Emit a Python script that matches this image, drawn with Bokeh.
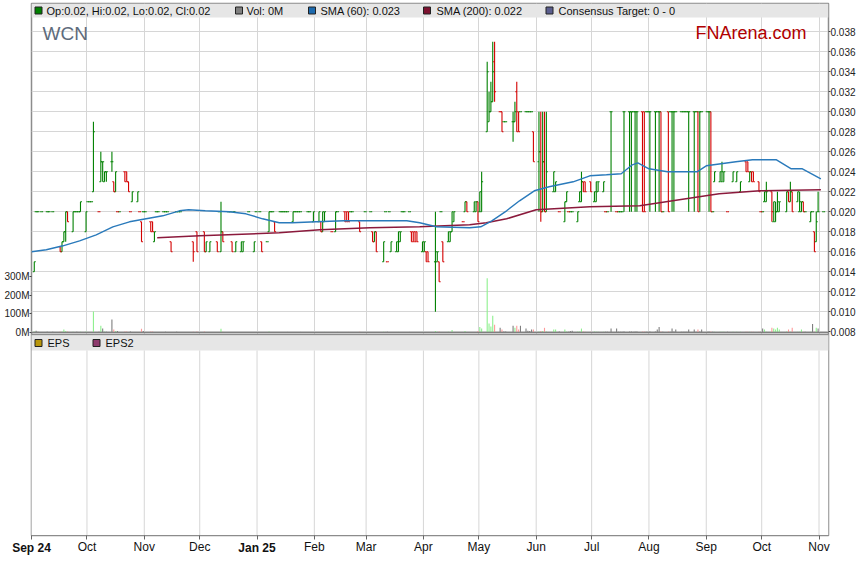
import pandas as pd
from bokeh.plotting import figure
from bokeh.models import Range1d, LinearAxis, DatetimeAxis, FixedTicker, Span, CustomJSTickFormatter
from bokeh.core.properties import value
from bokeh.embed import file_html
from bokeh.resources import INLINE

# ---------------- data ----------------
dates = [
    # Sep 2024
    "2024-09-02","2024-09-03","2024-09-04","2024-09-06","2024-09-09","2024-09-10","2024-09-12","2024-09-16","2024-09-17",
    "2024-09-18","2024-09-19","2024-09-20","2024-09-23","2024-09-24","2024-09-25","2024-09-26","2024-09-27","2024-09-30",
    # Oct 2024
    "2024-10-01","2024-10-02","2024-10-03","2024-10-04","2024-10-07","2024-10-08","2024-10-09","2024-10-10","2024-10-11",
    "2024-10-14","2024-10-15","2024-10-16","2024-10-17","2024-10-18","2024-10-21","2024-10-22","2024-10-23","2024-10-24",
    "2024-10-25","2024-10-28","2024-10-29","2024-10-30","2024-10-31",
    # Nov 2024
    "2024-11-01","2024-11-04","2024-11-05","2024-11-06","2024-11-07","2024-11-08","2024-11-11","2024-11-12","2024-11-13",
    "2024-11-15","2024-11-18","2024-11-19","2024-11-20","2024-11-27","2024-11-29",
    # Dec 2024
    "2024-12-03","2024-12-04","2024-12-06","2024-12-10","2024-12-11","2024-12-12","2024-12-13","2024-12-16","2024-12-17",
    "2024-12-18","2024-12-19","2024-12-20","2024-12-23","2024-12-24","2024-12-27","2024-12-30","2024-12-31",
    # Jan 2025
    "2025-01-02","2025-01-03","2025-01-06","2025-01-07","2025-01-08","2025-01-09","2025-01-10","2025-01-13","2025-01-14",
    "2025-01-15","2025-01-16","2025-01-17","2025-01-20","2025-01-21","2025-01-22","2025-01-23","2025-01-24","2025-01-28",
    "2025-01-29","2025-01-31",
    # Feb 2025
    "2025-02-03","2025-02-04","2025-02-05","2025-02-06","2025-02-10","2025-02-12","2025-02-13","2025-02-17","2025-02-18",
    "2025-02-19","2025-02-20","2025-02-21","2025-02-25","2025-02-28",
    # Mar 2025
    "2025-03-03","2025-03-04","2025-03-05","2025-03-06","2025-03-10","2025-03-11","2025-03-12","2025-03-13","2025-03-14",
    "2025-03-17","2025-03-18","2025-03-19","2025-03-20","2025-03-21","2025-03-24","2025-03-25","2025-03-26","2025-03-27",
    "2025-03-28","2025-03-31",
    # Apr 2025
    "2025-04-01","2025-04-02","2025-04-03","2025-04-07","2025-04-08","2025-04-09","2025-04-10","2025-04-11","2025-04-14",
    "2025-04-15","2025-04-16","2025-04-17","2025-04-22","2025-04-23","2025-04-24","2025-04-28","2025-04-29","2025-04-30",
    # May 2025
    "2025-05-01","2025-05-02","2025-05-05","2025-05-06","2025-05-07","2025-05-08","2025-05-09","2025-05-12","2025-05-13",
    "2025-05-14","2025-05-15","2025-05-19","2025-05-20","2025-05-21","2025-05-22","2025-05-23","2025-05-26","2025-05-27",
    "2025-05-28","2025-05-29","2025-05-30",
    # Jun 2025
    "2025-06-02","2025-06-03","2025-06-04","2025-06-05","2025-06-06","2025-06-10","2025-06-11","2025-06-13","2025-06-16",
    "2025-06-17","2025-06-18","2025-06-19","2025-06-20","2025-06-23","2025-06-24","2025-06-25","2025-06-26","2025-06-27",
    "2025-06-30",
    # Jul 2025
    "2025-07-02","2025-07-03","2025-07-04","2025-07-07","2025-07-08","2025-07-09","2025-07-11","2025-07-14","2025-07-15",
    "2025-07-16","2025-07-17","2025-07-18","2025-07-21","2025-07-22","2025-07-23","2025-07-24","2025-07-25","2025-07-28",
    "2025-07-29","2025-07-30","2025-07-31",
    # Aug 2025
    "2025-08-01","2025-08-04","2025-08-05","2025-08-06","2025-08-07","2025-08-08","2025-08-11","2025-08-12","2025-08-13",
    "2025-08-14","2025-08-15","2025-08-18","2025-08-19","2025-08-20","2025-08-21","2025-08-22","2025-08-25","2025-08-26",
    "2025-08-27","2025-08-28","2025-08-29",
    # Sep 2025
    "2025-09-01","2025-09-02","2025-09-03","2025-09-04","2025-09-05","2025-09-08","2025-09-09","2025-09-10","2025-09-12",
    "2025-09-15","2025-09-17","2025-09-19","2025-09-22","2025-09-23","2025-09-24","2025-09-25","2025-09-26","2025-09-29",
    "2025-09-30",
    # Oct / Nov 2025
    "2025-10-01","2025-10-02","2025-10-03","2025-10-06","2025-10-07","2025-10-08","2025-10-09","2025-10-10","2025-10-14",
    "2025-10-15","2025-10-16","2025-10-17","2025-10-20","2025-10-21","2025-10-22","2025-10-23","2025-10-24","2025-10-27",
    "2025-10-28","2025-10-29","2025-10-30","2025-10-31","2025-11-03",
]

opens = [
    .014,.020,.020,.020,.020,.020,.020,.0165,.016,.017,.018,.020,.018,.020,.020,.020,.020,.018,
    .021,.021,.021,.022,.020,.023,.025,.023,.024,.025,.023,.022,.020,.020,.024,.024,.023,.020,.021,.021,.020,.019,.020,
    .020,.019,.019,.017,.020,.020,.020,.020,.020,.017,.020,.020,.020,.017,.018,
    .018,.016,.016,.017,.020,.016,.018,.020,.020,.017,.020,.016,.016,.016,.020,.016,.020,
    .020,.017,.017,.018,.020,.020,.019,.020,.020,.020,.020,.020,.019,.020,.020,.020,.020,.020,.020,.019,
    .019,.019,.018,.019,.018,.018,.020,.020,.020,.020,.020,.020,.019,.020,
    .020,.018,.017,.018,.015,.020,.015,.020,.016,.016,.016,.017,.020,.020,.020,.018,.018,.018,.018,.016,
    .016,.016,.016,.015,.015,.015,.020,.017,.017,.017,.018,.019,.019,.020,.021,.020,.020,.021,
    .020,.020,.028,.029,.030,.031,.035,.030,.030,.029,.029,.029,.029,.032,.030,.030,.030,.030,.030,.030,.028,
    .025,.026,.020,.025,.020,.022,.022,.020,.019,.021,.020,.020,.020,.019,.021,.021,.023,.023,.023,
    .021,.021,.022,.022,.020,.020,.030,.020,.020,.020,.020,.030,.030,.030,.030,.030,.030,.030,.030,.030,.030,
    .030,.030,.030,.030,.030,.020,.030,.030,.030,.030,.030,.030,.030,.030,.030,.030,.030,.030,.030,.030,.030,
    .030,.030,.030,.020,.023,.023,.023,.023,.020,.023,.023,.022,.025,.025,.023,.024,.024,.023,.020,
    .020,.021,.021,.022,.019,.019,.020,.020,.020,.022,.021,.022,.021,.020,.020,.021,.020,.019,.020,.018,.017,.020,.020,
]

highs = [
    .015,.020,.020,.020,.020,.020,.020,.0165,.017,.018,.020,.020,.020,.020,.020,.020,.021,.020,
    .021,.021,.021,.029,.020,.026,.025,.024,.024,.026,.023,.024,.020,.020,.024,.024,.023,.020,.022,.022,.020,.019,.020,
    .020,.019,.019,.018,.020,.020,.020,.020,.020,.017,.020,.020,.020,.017,.018,
    .018,.017,.017,.017,.020,.021,.018,.020,.020,.017,.020,.017,.017,.017,.020,.017,.020,
    .020,.017,.017,.020,.020,.020,.019,.020,.020,.020,.020,.020,.020,.020,.020,.020,.020,.020,.020,.020,
    .020,.019,.020,.020,.018,.020,.020,.020,.020,.020,.020,.020,.019,.020,
    .020,.018,.018,.018,.017,.020,.015,.020,.017,.017,.018,.018,.020,.020,.020,.018,.018,.018,.018,.017,
    .017,.016,.016,.020,.016,.015,.020,.017,.018,.018,.020,.020,.019,.021,.021,.021,.021,.021,
    .022,.024,.035,.032,.033,.037,.037,.030,.030,.029,.029,.030,.031,.033,.030,.030,.030,.030,.030,.030,.028,
    .030,.030,.030,.030,.030,.024,.023,.020,.021,.022,.020,.020,.020,.020,.022,.024,.023,.023,.023,
    .022,.023,.023,.023,.020,.020,.030,.020,.020,.020,.020,.030,.030,.030,.030,.030,.030,.030,.030,.030,.030,
    .030,.030,.030,.030,.030,.020,.030,.030,.030,.030,.030,.030,.030,.030,.030,.030,.030,.030,.030,.030,.030,
    .030,.030,.030,.020,.024,.024,.025,.024,.020,.024,.024,.023,.025,.025,.024,.024,.024,.023,.020,
    .020,.022,.023,.022,.021,.021,.022,.021,.022,.022,.023,.022,.022,.022,.021,.021,.020,.020,.020,.018,.020,.022,.020,
]

lows = [
    .014,.020,.020,.020,.020,.020,.020,.016,.016,.017,.017,.019,.018,.020,.020,.020,.020,.018,
    .021,.021,.021,.022,.020,.023,.023,.023,.023,.024,.022,.022,.020,.020,.023,.023,.022,.020,.021,.021,.020,.017,.020,
    .020,.018,.018,.017,.020,.020,.020,.020,.020,.016,.020,.020,.020,.015,.016,
    .016,.016,.016,.016,.020,.016,.017,.020,.020,.016,.020,.016,.016,.016,.020,.016,.020,
    .020,.016,.017,.018,.020,.020,.018,.020,.020,.020,.020,.020,.019,.020,.020,.020,.020,.020,.020,.019,
    .019,.018,.018,.019,.018,.018,.020,.019,.019,.019,.020,.020,.018,.020,
    .020,.017,.017,.016,.015,.020,.015,.020,.016,.016,.016,.017,.020,.020,.020,.017,.017,.017,.017,.016,
    .016,.015,.015,.010,.015,.013,.020,.015,.017,.017,.018,.019,.019,.020,.020,.020,.020,.019,
    .020,.020,.028,.029,.030,.031,.031,.030,.028,.029,.029,.027,.029,.028,.028,.030,.030,.030,.030,.030,.025,
    .020,.019,.020,.020,.020,.022,.022,.020,.019,.021,.020,.020,.020,.019,.021,.021,.022,.022,.022,
    .021,.021,.022,.022,.020,.020,.020,.020,.020,.020,.020,.020,.020,.020,.030,.020,.020,.020,.020,.030,.030,
    .020,.020,.030,.020,.020,.020,.020,.030,.020,.020,.030,.030,.030,.030,.030,.020,.020,.030,.020,.020,.030,
    .030,.020,.020,.020,.023,.023,.023,.023,.020,.023,.023,.022,.024,.024,.023,.023,.023,.022,.020,
    .020,.021,.021,.019,.019,.019,.020,.020,.020,.021,.021,.020,.021,.020,.020,.020,.020,.019,.020,.016,.017,.020,.020,
]

closes = [
    .015,.020,.020,.020,.020,.020,.020,.016,.017,.018,.020,.019,.020,.020,.020,.020,.021,.020,
    .021,.021,.021,.028,.020,.025,.025,.024,.024,.025,.022,.024,.020,.020,.023,.023,.022,.020,.022,.022,.020,.017,.020,
    .020,.018,.018,.018,.020,.020,.020,.020,.020,.016,.020,.020,.020,.016,.016,
    .016,.017,.017,.016,.020,.018,.017,.020,.020,.016,.020,.017,.017,.017,.020,.017,.020,
    .020,.016,.017,.020,.020,.020,.018,.020,.020,.020,.020,.020,.020,.020,.020,.020,.020,.020,.020,.020,
    .020,.018,.020,.020,.018,.020,.020,.019,.019,.019,.020,.020,.018,.020,
    .020,.017,.018,.016,.017,.020,.015,.020,.017,.017,.018,.018,.020,.020,.020,.017,.017,.017,.017,.017,
    .017,.015,.015,.016,.016,.013,.020,.015,.018,.018,.020,.020,.019,.021,.020,.021,.021,.019,
    .022,.023,.034,.030,.031,.034,.032,.030,.028,.029,.029,.029,.030,.028,.028,.030,.030,.030,.030,.030,.025,
    .026,.020,.025,.020,.024,.024,.023,.020,.021,.022,.020,.020,.020,.020,.022,.023,.022,.022,.022,
    .022,.023,.023,.023,.020,.020,.030,.020,.020,.020,.020,.030,.030,.030,.030,.030,.030,.020,.020,.030,.030,
    .030,.030,.030,.030,.020,.020,.020,.030,.030,.030,.030,.030,.030,.030,.030,.030,.030,.030,.020,.030,.030,
    .030,.030,.020,.020,.024,.024,.024,.024,.020,.024,.024,.023,.024,.024,.024,.023,.023,.022,.020,
    .020,.022,.022,.020,.021,.020,.021,.021,.022,.021,.022,.020,.022,.021,.021,.020,.020,.020,.020,.016,.019,.020,.020,
]

volumes_m = [
    5,10,4,3,4,3,4,5,5,16,8,5,4,3,4,3,4,5,
    3,3,3,112,4,36,21,5,4,70,16,8,8,3,5,5,3,5,3,3,3,20,8,
    3,5,5,3,3,3,3,4,3,3,4,3,3,4,5,
    5,3,3,3,3,20,4,3,3,3,3,3,3,3,3,3,3,
    3,3,3,5,3,3,3,3,3,3,3,3,3,3,3,3,3,3,3,3,
    3,3,3,3,3,3,3,3,3,3,3,3,4,3,
    3,3,3,3,4,3,4,3,3,3,3,3,3,3,3,3,3,3,3,3,
    3,3,3,8,4,5,3,3,4,3,14,3,3,8,3,3,3,8,
    30,21,290,48,32,89,41,25,16,5,5,36,25,36,16,36,21,10,8,16,16,
    5,8,8,25,5,16,16,5,16,5,4,8,10,5,5,21,5,4,4,
    5,4,4,4,4,4,21,21,4,4,4,5,5,5,4,5,5,5,5,4,4,
    5,5,16,30,5,4,5,4,21,5,16,4,4,4,4,16,16,4,16,5,16,
    4,5,5,4,4,4,4,4,4,4,4,4,4,4,4,4,4,4,4,
    21,16,4,25,21,16,25,16,5,16,4,25,4,4,16,4,4,4,46,4,25,21,0,
]

sma60_dates = [
    "2024-09-01","2024-09-09","2024-09-18","2024-09-27","2024-10-06","2024-10-15","2024-10-24","2024-11-02",
    "2024-11-11","2024-11-20","2024-11-25","2024-12-04","2024-12-17","2024-12-26","2025-01-04","2025-01-13",
    "2025-01-20","2025-02-02","2025-02-17","2025-03-01","2025-03-23","2025-03-30","2025-04-08","2025-04-26",
    "2025-05-02","2025-05-08","2025-05-16","2025-05-23","2025-05-31","2025-06-08","2025-06-21","2025-06-30",
    "2025-07-09","2025-07-17","2025-07-23","2025-07-26","2025-08-01","2025-08-11","2025-08-27","2025-09-01",
    "2025-09-17","2025-09-26","2025-10-09","2025-10-17","2025-10-23","2025-11-02",
]
sma60_vals = [
    .0160,.0162,.0166,.0171,.0177,.0185,.0190,.0193,.0196,.0201,.0202,.0201,.0200,.0198,.0193,.0189,
    .0189,.0190,.0191,.0191,.0191,.0189,.0185,.0184,.0185,.0191,.0201,.0211,.0221,.0225,.0230,.0236,
    .0237,.0238,.0247,.0249,.0243,.0240,.0240,.0246,.0250,.0252,.0252,.0243,.0243,.0233,
]

sma200_dates = [
    "2024-11-08","2024-12-01","2025-01-13","2025-02-04","2025-03-03","2025-03-30","2025-04-26","2025-05-05",
    "2025-05-16","2025-06-01","2025-06-30","2025-07-27","2025-08-21","2025-09-08","2025-09-30","2025-11-02",
]
sma200_vals = [
    .0174,.0176,.0179,.0182,.0184,.0185,.0187,.0189,.0193,.0202,.0205,.0206,.0213,.0218,.0221,.0222,
]

price_ticks = [0.008, 0.010, 0.012, 0.014, 0.016, 0.018, 0.020, 0.022, 0.024, 0.026, 0.028, 0.030,
               0.032, 0.034, 0.036, 0.038]
price_labels = ["0.008", "0.010", "0.012", "0.014", "0.016", "0.018", "0.020", "0.022", "0.024", "0.026",
                "0.028", "0.030", "0.032", "0.034", "0.036", "0.038"]
vol_ticks = [0, 100, 200, 300]
vol_labels = ["0M", "100M", "200M", "300M"]
month_starts = ["2024-09-01", "2024-10-01", "2024-11-01", "2024-12-01", "2025-01-01", "2025-02-01",
                "2025-03-01", "2025-04-01", "2025-05-01", "2025-06-01", "2025-07-01", "2025-08-01",
                "2025-09-01", "2025-10-01", "2025-11-01"]
month_labels = ["Sep 24", "Oct", "Nov", "Dec", "Jan 25", "Feb", "Mar", "Apr", "May", "Jun", "Jul", "Aug",
                "Sep", "Oct", "Nov"]
bold_labels = ["Sep 24", "Jan 25"]

legend_top = ["Op:0.02, Hi:0.02, Lo:0.02, Cl:0.02", "Vol: 0M", "SMA (60): 0.023", "SMA (200): 0.022",
              "Consensus Target: 0 - 0"]
legend_top_colors = ["#008000", "#808080", "#1c6aae", "#7c1230", "#5b5e8e"]
legend_bottom = ["EPS", "EPS2"]
legend_bottom_colors = ["#b8960b", "#8e3b6d"]

assert len(dates) == len(opens) == len(highs) == len(lows) == len(closes) == len(volumes_m), (
    len(dates), len(opens), len(highs), len(lows), len(closes), len(volumes_m))

# ---------------- helpers ----------------
def ms(s):
    return pd.Timestamp(s).value / 1e6

DAY = 86400000.0
t = [ms(d) + DAY / 2 for d in dates]
month_t = [ms(m) for m in month_starts]
sma60_t = [ms(d) for d in sma60_dates]
sma200_t = [ms(d) for d in sma200_dates]

GREEN, RED = "#008000", "#d40000"
LGREEN, LRED, GRAY = "#8ff08f", "#ff9a9a", "#7f7f7f"
bar_col, vol_col = [], []
prev = None
for o, c in zip(opens, closes):
    if c > o:
        up = True
    elif c < o:
        up = False
    else:
        up = prev is None or c >= prev
    bar_col.append(GREEN if up else RED)
    vol_col.append(GRAY if c == o else (LGREEN if c > o else LRED))
    prev = c

FONT = "Liberation Sans"
W, H = 859, 565
FRAME_L, FRAME_R = 31, 828          # page pixels of the plot frame
FRAME_T, FRAME_B = 3, 535
PANEL_SPLIT = 334                   # border between price panel and EPS panel
X0 = ms("2024-09-01")
X1 = ms("2025-11-06") + 3 * 3600 * 1000
PX_PER_PRICE = 10000.0
P_AT_SPLIT = 0.00773
P0 = P_AT_SPLIT - (FRAME_B - PANEL_SPLIT) / PX_PER_PRICE
P1 = P0 + (FRAME_B - FRAME_T) / PX_PER_PRICE
PX_PER_100M = 18.7
VOL_ZERO_PX = 332
V0 = -(FRAME_B - VOL_ZERO_PX) / PX_PER_100M * 100
V1 = V0 + (FRAME_B - FRAME_T) / PX_PER_100M * 100

def px_x(px):
    return X0 + (px - FRAME_L) * (X1 - X0) / (FRAME_R - FRAME_L)

def px_y(py):
    return P0 + (FRAME_B - py) / PX_PER_PRICE

def label_formatter(ticks, labels):
    return CustomJSTickFormatter(args=dict(ts=list(ticks), ls=list(labels)),
                                 code="const i = ts.indexOf(tick); return i >= 0 ? ls[i] : '';")

p = figure(width=W, height=H, x_axis_type="datetime", x_range=Range1d(X0, X1), y_range=Range1d(P0, P1),
           y_axis_location=None, output_backend="svg", toolbar_location=None,
           min_border_left=FRAME_L, min_border_right=W - FRAME_R, min_border_top=FRAME_T,
           min_border_bottom=H - FRAME_B, background_fill_color="white", border_fill_color="white",
           outline_line_color="#8c8c8c", outline_line_width=1.5)
p.extra_y_ranges = {"vol": Range1d(V0, V1)}
p.xgrid.ticker = FixedTicker(ticks=month_t)
p.ygrid.ticker = FixedTicker(ticks=price_ticks)
p.xgrid.grid_line_color = "#d6d6d6"
p.ygrid.grid_line_color = "#d6d6d6"

# axes
ax_r = LinearAxis(ticker=FixedTicker(ticks=price_ticks), formatter=label_formatter(price_ticks, price_labels),
                  major_tick_in=0, major_tick_out=2, minor_tick_in=0, minor_tick_out=0,
                  major_label_standoff=0, axis_line_color=None,
                  major_tick_line_color="#444", major_label_text_font=FONT,
                  major_label_text_font_size="10px", major_label_text_color="#222")
p.add_layout(ax_r, "right")
ax_l = LinearAxis(y_range_name="vol", ticker=FixedTicker(ticks=vol_ticks),
                  formatter=label_formatter(vol_ticks, vol_labels),
                  major_tick_in=0, major_tick_out=2, minor_tick_in=0, minor_tick_out=0,
                  major_label_standoff=0, axis_line_color=None,
                  major_tick_line_color="#444", major_label_text_font=FONT,
                  major_label_text_font_size="10px", major_label_text_color="#222")
p.add_layout(ax_l, "left")

normal_labels = [("" if s in bold_labels else s) for s in month_labels]
ax_b = p.xaxis[0]
ax_b.ticker = FixedTicker(ticks=month_t)
ax_b.formatter = label_formatter(month_t, normal_labels)
ax_b.major_tick_in = 0
ax_b.major_tick_out = 4
ax_b.minor_tick_in = 0
ax_b.minor_tick_out = 0
ax_b.major_label_standoff = 0
ax_b.axis_line_color = "#8c8c8c"
ax_b.major_tick_line_color = "#666"
ax_b.major_label_text_font = FONT
ax_b.major_label_text_font_size = "12px"
ax_b.major_label_text_color = "#111"

bold_t = [mt for mt, s in zip(month_t, month_labels) if s in bold_labels]
ax_bold = DatetimeAxis(ticker=FixedTicker(ticks=bold_t), formatter=label_formatter(bold_t, bold_labels),
                       major_tick_in=0, major_tick_out=0, minor_tick_in=0, minor_tick_out=0,
                       axis_line_color=None, major_tick_line_color=None, major_label_standoff=-16,
                       major_label_text_font=FONT, major_label_text_font_size="12px",
                       major_label_text_font_style="bold", major_label_text_color="#111")
p.add_layout(ax_bold, "below")

# volume
p.vbar(x=t, top=volumes_m, bottom=0, width=0.6 * DAY, fill_color=vol_col, line_color=None,
       y_range_name="vol")
p.add_layout(Span(location=0, dimension="width", y_range_name="vol", line_color="#808080", line_width=1.5))

# OHLC bars
p.segment(x0=t, y0=lows, x1=t, y1=highs, line_color=bar_col, line_width=1.1)
p.segment(x0=[x - 0.8 * DAY for x in t], y0=opens, x1=t, y1=opens, line_color=bar_col, line_width=1.1)
p.segment(x0=t, y0=closes, x1=[x + 0.8 * DAY for x in t], y1=closes, line_color=bar_col, line_width=1.1)

# moving averages
p.line(sma200_t, sma200_vals, line_color="#8b1a3c", line_width=1.6)
p.line(sma60_t, sma60_vals, line_color="#2a7abb", line_width=1.4)

# top legend band
p.quad(left=[X0], right=[X1], top=[px_y(FRAME_T)], bottom=[px_y(17)], fill_color="#e6e6e6", line_color=None)
sq_px = [38, 238.5, 311.5, 426.5, 549]
tx_px = [46, 246, 320, 436, 558]
p.scatter(x=[px_x(v) for v in sq_px], y=[px_y(10)] * 5, marker="square", size=7,
          fill_color=legend_top_colors, line_color="#222", line_width=1)
p.text(x=[px_x(v) for v in tx_px], y=[px_y(10)] * 5, text=legend_top, text_font=value(FONT),
       text_font_size=value("11px"), text_color="#111", text_baseline="middle")

p.text(x=[px_x(42)], y=[px_y(32.5)], text=["WCN"], text_font=value(FONT), text_font_size=value("19px"),
       text_color="#5e6b7c", text_baseline="middle")
p.text(x=[px_x(695)], y=[px_y(32.5)], text=["FNArena.com"], text_font=value(FONT),
       text_font_size=value("18px"), text_color="#b00000", text_baseline="middle")

# EPS panel (lower part of the same frame)
p.quad(left=[X0], right=[X1], top=[px_y(PANEL_SPLIT)], bottom=[px_y(FRAME_B)], fill_color="white",
       line_color=None)
p.add_layout(Span(location=px_y(PANEL_SPLIT), dimension="width", line_color="#8c8c8c", line_width=1.5))
p.quad(left=[X0], right=[X1], top=[px_y(335)], bottom=[px_y(350)], fill_color="#e6e6e6", line_color=None)
p.scatter(x=[px_x(38), px_x(96)], y=[px_y(342.5)] * 2, marker="square", size=7,
          fill_color=legend_bottom_colors, line_color="#222", line_width=1)
p.text(x=[px_x(47), px_x(105)], y=[px_y(342.5)] * 2, text=legend_bottom, text_font=value(FONT),
       text_font_size=value("11px"), text_color="#111", text_baseline="middle")
p.segment(x0=month_t, y0=[px_y(350)] * len(month_t), x1=month_t, y1=[px_y(FRAME_B)] * len(month_t),
          line_color="#d6d6d6", line_width=1)

open("out.html", "w").write(file_html(p, INLINE, title="WCN"))
